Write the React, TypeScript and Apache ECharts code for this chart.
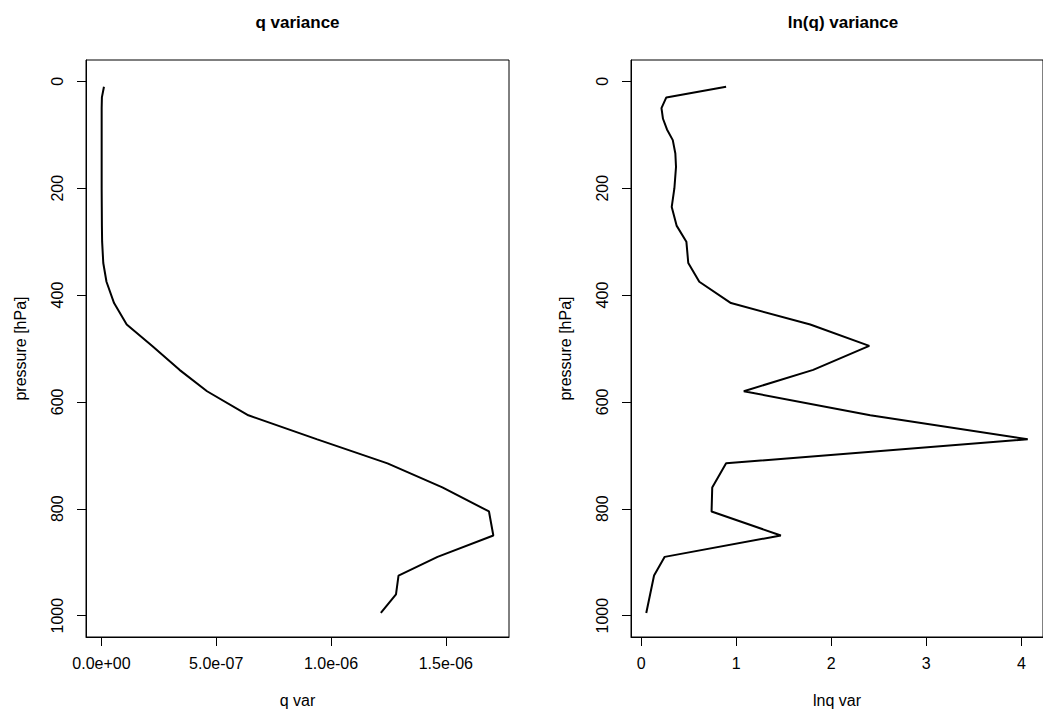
import React, { useEffect, useRef } from "react";
import * as echarts from "echarts";

const pressure = [10, 30, 50, 70, 90, 110, 135, 160, 200, 235, 270, 300, 340, 375, 415, 455, 495, 540, 580, 625, 670, 715, 760, 805, 850, 890, 925, 960, 995];
const qVar = [1.1e-8, 2e-9, 1e-9, 1e-9, 1e-9, 1e-9, 1e-9, 1e-9, 1e-9, 1.5e-9, 2e-9, 3e-9, 8e-9, 2.2e-8, 5.5e-8, 1.1e-7, 2.2e-7, 3.4e-7, 4.6e-7, 6.4e-7, 9.4e-7, 1.246e-6, 1.485e-6, 1.688e-6, 1.707e-6, 1.464e-6, 1.294e-6, 1.283e-6, 1.217e-6];
const lnqVar = [0.894, 0.265, 0.214, 0.23, 0.272, 0.333, 0.36, 0.367, 0.35, 0.322, 0.373, 0.476, 0.496, 0.612, 0.945, 1.779, 2.4, 1.81, 1.08, 2.41, 4.067, 0.894, 0.748, 0.741, 1.47, 0.248, 0.136, 0.095, 0.054];

const pressureTicks = [0, 200, 400, 600, 800, 1000];
const qTicks = [0, 5e-7, 1e-6, 1.5e-6];
const qTickLabels = ["0.0e+00", "5.0e-07", "1.0e-06", "1.5e-06"];
const lnqTicks = [0, 1, 2, 3, 4];
const lnqTickLabels = ["0", "1", "2", "3", "4"];

const titles = ["q variance", "ln(q) variance"];
const xNames = ["q var", "lnq var"];
const yName = "pressure [hPa]";

const FONT = "'Liberation Sans', Arial, Helvetica, sans-serif";

function rRange(vals: number[]): [number, number] {
  const lo = Math.min(...vals);
  const hi = Math.max(...vals);
  const d = (hi - lo) * 0.04;
  return [lo - d, hi + d];
}

function labelFor(ticks: number[], labels: string[]) {
  return (v: number) => {
    const i = ticks.findIndex((t) => Math.abs(t - v) <= Math.abs(t) * 1e-9 + 1e-15);
    return i >= 0 ? labels[i] : "";
  };
}

export default function App() {
  const ref = useRef<HTMLDivElement>(null);
  useEffect(() => {
    if (!ref.current) return;
    const chart = echarts.init(ref.current, undefined, { renderer: "svg" });
    const grids = [
      { left: 86, top: 60, width: 423, height: 577 },
      { left: 631, top: 60, width: 424, height: 577 },
    ];
    const qR = rRange(qVar);
    const lR = rRange(lnqVar);
    const xDefs = [
      { range: qR, ticks: qTicks, labels: qTickLabels },
      { range: lR, ticks: lnqTicks, labels: lnqTickLabels },
    ];
    const yRange = [-40, 1040];
    chart.setOption({
      animation: false,
      backgroundColor: "#fff",
      textStyle: { fontFamily: FONT },
      grid: grids.map((g) => ({
        ...g,
        show: true,
        borderColor: "#000",
        borderWidth: 1,
        backgroundColor: "transparent",
      })),
      xAxis: xDefs.map((d, i) => ({
        type: "value",
        gridIndex: i,
        position: "bottom",
        min: d.range[0],
        max: d.range[1],
        name: xNames[i],
        nameLocation: "middle",
        nameGap: 55,
        nameTextStyle: { fontSize: 16, color: "#000", fontFamily: FONT },
        axisLine: { show: true, onZero: false, lineStyle: { color: "#000", width: 1 } },
        splitLine: { show: false },
        axisTick: {
          show: true,
          inside: false,
          length: 9,
          customValues: d.ticks,
          lineStyle: { color: "#000", width: 1 },
        },
        axisLabel: {
          show: true,
          customValues: d.ticks,
          margin: 18,
          fontSize: 16,
          color: "#000",
          fontFamily: FONT,
          formatter: labelFor(d.ticks, d.labels),
        },
      })),
      yAxis: [0, 1].map((i) => ({
        type: "value",
        gridIndex: i,
        position: "left",
        inverse: true,
        min: yRange[0],
        max: yRange[1],
        name: yName,
        nameLocation: "middle",
        nameGap: 58,
        nameRotate: 90,
        nameTextStyle: { fontSize: 16, color: "#000", fontFamily: FONT },
        axisLine: { show: true, onZero: false, lineStyle: { color: "#000", width: 1 } },
        splitLine: { show: false },
        axisTick: {
          show: true,
          inside: false,
          length: 9,
          customValues: pressureTicks,
          lineStyle: { color: "#000", width: 1 },
        },
        axisLabel: {
          show: true,
          rotate: 90,
          customValues: pressureTicks,
          margin: 21,
          fontSize: 16,
          color: "#000",
          fontFamily: FONT,
          formatter: (v: number) => String(v),
        },
      })),
      series: [
        {
          type: "line",
          xAxisIndex: 0,
          yAxisIndex: 0,
          data: pressure.map((p, k) => [qVar[k], p]),
          showSymbol: false,
          lineStyle: { color: "#000", width: 2 },
        },
        {
          type: "line",
          xAxisIndex: 1,
          yAxisIndex: 1,
          data: pressure.map((p, k) => [lnqVar[k], p]),
          showSymbol: false,
          lineStyle: { color: "#000", width: 2 },
        },
      ],
      graphic: titles.map((t, i) => ({
        type: "text",
        x: grids[i].left + grids[i].width / 2,
        y: 22,
        style: {
          text: t,
          textAlign: "center",
          textVerticalAlign: "middle",
          font: `bold 17px ${FONT}`,
          fill: "#000",
        },
      })),
    });
    return () => chart.dispose();
  }, []);
  return (
    <div
      ref={ref}
      style={{ position: "absolute", left: 0, top: 0, width: 1043, height: 713, overflow: "hidden" }}
    />
  );
}
